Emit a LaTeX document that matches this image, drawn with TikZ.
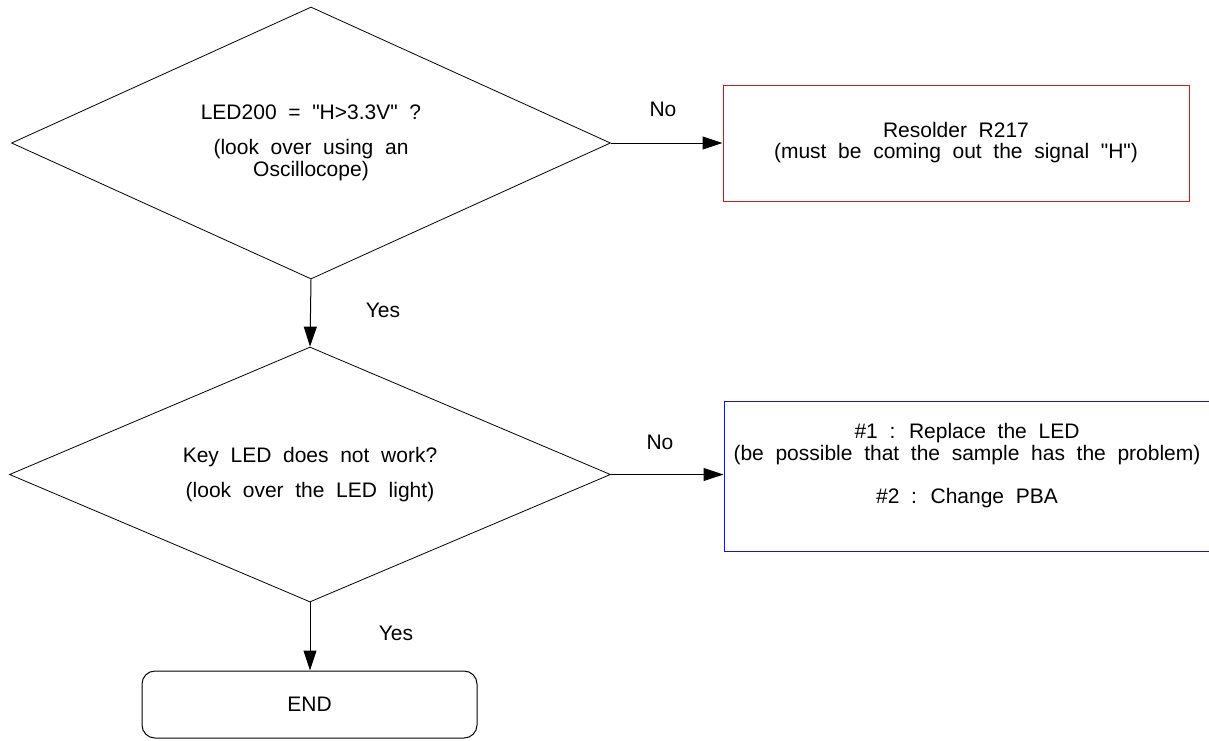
\documentclass[tikz,border=0pt]{standalone}
\usepackage{fontspec}
\setmainfont{Liberation Sans}[WordSpace=2, Ligatures=TeXOff]
\usetikzlibrary{shapes.geometric,arrows.meta,calc}
\definecolor{boxred}{RGB}{220,20,20}
\definecolor{boxblue}{RGB}{20,20,230}
\begin{document}
\begin{tikzpicture}[x=1pt,y=-1pt,
  every node/.style={font=\fontsize{21}{22}\selectfont, text=black},
  decision/.style={diamond, draw=black, line width=0.8pt, inner sep=0pt, align=center, aspect=2.2},
  procbox/.style={rectangle, draw, line width=1pt, inner sep=0pt},
  endbox/.style={rectangle, draw=black, line width=1pt, rounded corners=13pt, inner sep=0pt},
  flow/.style={line width=1pt, -{Triangle[length=20pt,width=13pt]}},
  lbl/.style={inner sep=0pt}]
\useasboundingbox (0,0) rectangle (1209,740);
\node[decision, minimum width=599pt, minimum height=272pt] (d1) at (311,143)
  {LED200 = "H>3.3V" ?\\[13pt](look over using an\\Oscillocope)};
\node[decision, minimum width=601pt, minimum height=255pt] (d2) at (310,474.5)
  {Key LED does not work?\\[13pt](look over the LED light)};
\node[procbox, draw=boxred, minimum width=466pt, minimum height=116pt, align=center] (b1) at (956,143)
  {Resolder R217\\[-1pt](must be coming out the signal "H")};
\node[procbox, draw=boxblue, minimum width=486pt, minimum height=150pt] (b2) at (967,476) {};
\node[lbl, align=center] (b2t) at (967,465.5)
  {\#1 : Replace the LED\\(be possible that the sample has the problem)\\[21pt]\#2 : Change PBA};
\node[endbox, minimum width=335pt, minimum height=67pt] (e) at (309.5,704.5) {END};
\draw[flow] (d1.east) -- (d1.east -| b1.west);
\draw[flow] (d1.south) -- (d2.north);
\draw[flow] (d2.east) -- (d2.east -| b2.west);
\draw[flow] (d2.south) -- (d2.south |- e.north);
\node[lbl] (no1) at (663,109) {No};
\node[lbl] (yes1) at (383,310) {Yes};
\node[lbl] (no2) at (660,442) {No};
\node[lbl] (yes2) at (396,633) {Yes};
\end{tikzpicture}
\end{document}
